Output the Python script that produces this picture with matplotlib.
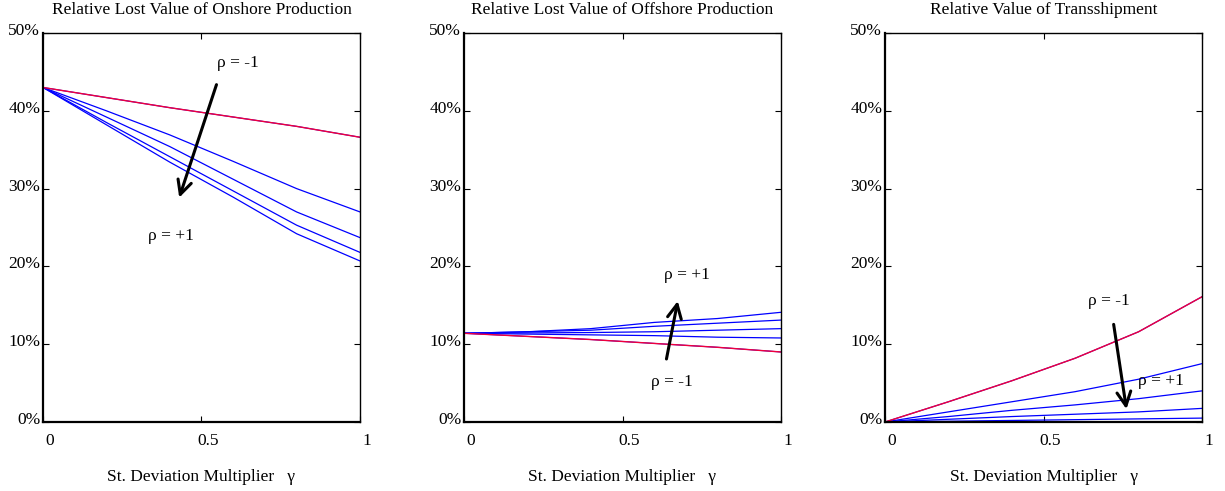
import numpy as np
import matplotlib
matplotlib.use("Agg")
import matplotlib.pyplot as plt
import matplotlib.transforms as mtransforms

plt.rcParams['font.family'] = ['Liberation Serif', 'DejaVu Serif']

gamma = [0.0, 0.2, 0.4, 0.6, 0.8, 1.0]

# onshore (%): rho = -1 (red) then blue curves toward rho = +1
onshore_red = [43.0, 41.7, 40.4, 39.2, 38.0, 36.6]
onshore_blue = [
    [43.0, 40.0, 36.9, 33.5, 30.0, 27.0],
    [43.0, 39.2, 35.4, 31.2, 27.0, 23.7],
    [43.0, 38.5, 34.1, 29.7, 25.3, 21.8],
    [43.0, 38.2, 33.4, 28.9, 24.2, 20.7],
]

offshore_red = [11.4, 11.0, 10.6, 10.1, 9.6, 9.0]
offshore_blue = [
    [11.4, 11.6, 12.0, 12.8, 13.3, 14.1],
    [11.4, 11.6, 11.8, 12.3, 12.7, 13.1],
    [11.4, 11.45, 11.5, 11.6, 11.8, 12.0],
    [11.4, 11.3, 11.2, 11.1, 10.9, 10.8],
]

trans_red = [0.0, 2.6, 5.3, 8.2, 11.6, 16.1]
trans_blue = [
    [0.0, 1.3, 2.6, 3.9, 5.5, 7.5],
    [0.0, 0.7, 1.5, 2.2, 3.0, 4.0],
    [0.0, 0.35, 0.7, 1.0, 1.3, 1.75],
    [0.0, 0.1, 0.2, 0.3, 0.4, 0.5],
]

titles = ['Relative Lost Value of Onshore Production',
          'Relative Lost Value of Offshore Production',
          'Relative Value of Transshipment']

# (text, x, y) labels and arrows (x0, y0, x1, y1) in data coords
labels = [
    [('ρ = -1', 0.55, 46.1), ('ρ = +1', 0.33, 23.9)],
    [('ρ = +1', 0.63, 18.9), ('ρ = -1', 0.59, 5.2)],
    [('ρ = -1', 0.64, 15.5), ('ρ = +1', 0.797, 5.3)],
]
arrows = [
    (0.55, 43.7, 0.427, 28.5),
    (0.637, 7.75, 0.676, 15.9),
    (0.72, 12.9, 0.763, 1.3),
]

reds = [onshore_red, offshore_red, trans_red]
blues = [onshore_blue, offshore_blue, trans_blue]

fig = plt.figure(figsize=(12.25, 4.91), dpi=100)
lefts = [43, 464, 885]
W, H = 1225, 491
for i in range(3):
    ax = fig.add_axes([lefts[i] / W, (H - 422) / H, 317 / W, 389 / H])
    for b in blues[i]:
        ax.plot(gamma, b, color='#0000ff', lw=0.9)
    # red curve drawn over a blue copy, as in the source figure
    ax.plot(gamma, reds[i], color='#0000ff', lw=0.8)
    ax.plot(gamma, reds[i], color='#f0003c', lw=1.0)

    ax.set_xlim(0, 1)
    ax.set_ylim(0, 50)
    ax.set_xticks([0, 0.5, 1])
    ax.set_xticklabels(['0', '0.5', '1'])
    ax.set_yticks([0, 10, 20, 30, 40, 50])
    ax.set_yticklabels(['0%', '10%', '20%', '30%', '40%', '50%'])
    ax.tick_params(direction='in', top=True, right=True, length=4,
                   width=0.8, labelsize=12.5, pad=2)
    ax.tick_params(axis='x', pad=8)
    off = mtransforms.ScaledTranslation(7 / 100, 0, fig.dpi_scale_trans)
    for lab in ax.get_xticklabels():
        lab.set_transform(lab.get_transform() + off)
    offy = mtransforms.ScaledTranslation(0, 4 / 100, fig.dpi_scale_trans)
    for lab in ax.get_yticklabels():
        lab.set_transform(lab.get_transform() + offy)

    for s in ['left', 'bottom']:
        ax.spines[s].set_linewidth(1.6)
    for s in ['top', 'right']:
        ax.spines[s].set_linewidth(1.0)

    ax.set_title(titles[i], fontsize=12.5, pad=14)
    ax.set_xlabel('St. Deviation Multiplier   γ', fontsize=12.5, labelpad=14)

    for txt, tx, ty in labels[i]:
        ax.text(tx, ty, txt, fontsize=12.5, ha='left', va='center')
    x0, y0, x1, y1 = arrows[i]
    ax.annotate('', xy=(x1, y1), xytext=(x0, y0),
                arrowprops=dict(arrowstyle='->,head_length=1.0,head_width=0.5',
                                color='black', lw=2.2))

fig.savefig('out.png', dpi=100)
